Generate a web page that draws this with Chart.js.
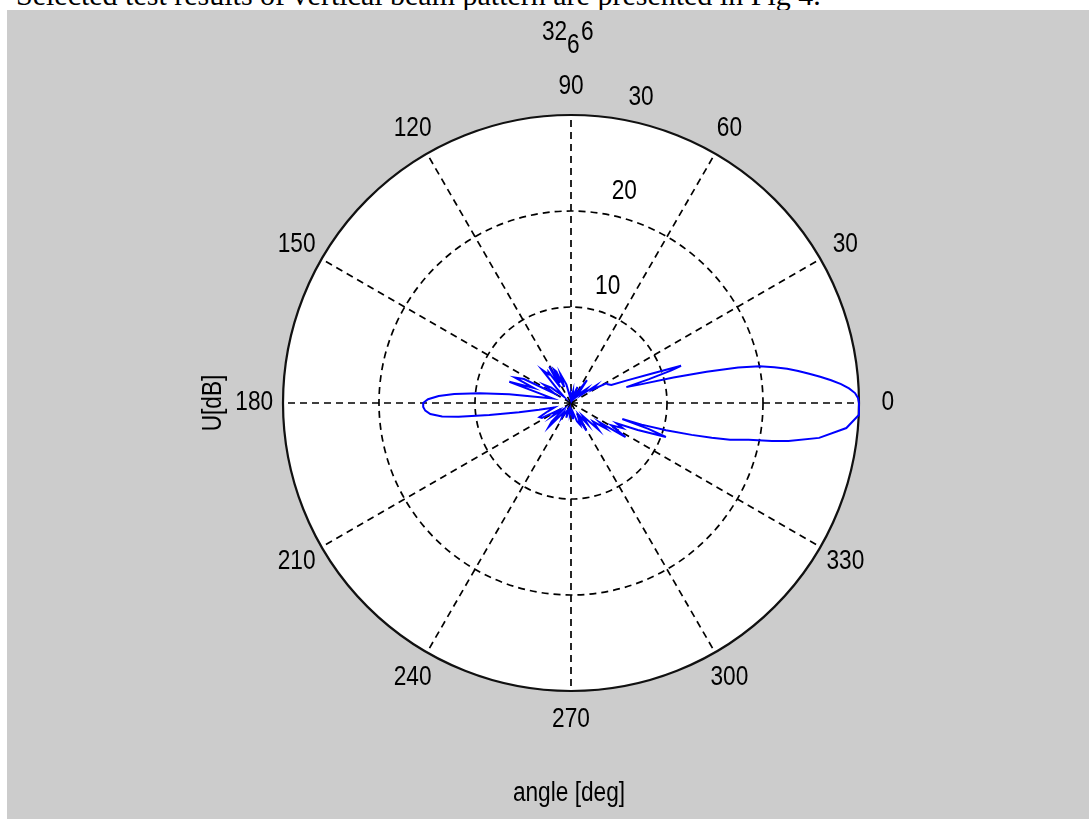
<!DOCTYPE html>
<html>
<head>
<meta charset="utf-8">
<title>Vertical beam pattern</title>
<script src="https://cdn.jsdelivr.net/npm/chart.js@4.4.1/dist/chart.umd.min.js"></script>
<style>
  html, body { margin: 0; padding: 0; background: #fff; width: 1089px; height: 819px; overflow: hidden; }
  #caption {
    position: absolute; left: 16px; top: -20px; line-height: 30px;
    font-family: "Liberation Serif", "Times New Roman", serif; font-size: 30px;
    white-space: nowrap; color: #000;
  }
  #figure { position: absolute; left: 7px; top: 10px; width: 1082px; height: 809px; background: #cccccc; }
</style>
</head>
<body>
<div id="caption">Selected test results of vertical beam pattern are presented in Fig 4.</div>
<div id="figure"><canvas id="polar-canvas"></canvas></div>
<script>
// pattern: angle in degrees, level in dB (0..30 on the radial axis)
const angleDeg = [
  0, 1, 2, 3, 4, 5, 6, 7, 8, 9,
  10, 11, 12, 13, 14, 15, 16, 17, 18, 18.7,
  20, 22, 24, 27, 29, 32, 35, 38, 42, 45,
  50, 55, 58, 62, 68, 74, 80, 86, 92, 98,
  104, 110, 113, 115, 117, 119, 121, 124, 126, 128,
  131, 134, 138, 142, 146, 148, 150, 153, 155.6, 158,
  161, 163, 166, 169, 172, 174, 175.6, 177, 178.5, 180,
  181.5, 183, 184.5, 186, 187, 188.3, 190, 192, 195, 200,
  204, 207, 210, 215, 220, 224, 227, 232, 238, 245,
  252, 258, 264, 270, 276, 282, 288, 293, 296, 299,
  303, 308, 312, 316, 320, 324, 326, 328, 331, 334,
  336, 338, 339.3, 340.3, 341.5, 342.6, 343, 344, 345.2, 346.1,
  347, 348.3, 349.3, 350.1, 352, 354.8, 357.6, 358.8, 360,
];
const gainDb = [
  30, 29.9, 29.6, 29.0, 28.2, 27.2, 26.1, 25.0, 23.9, 22.8,
  21.5, 20.0, 17.8, 14.5, 11.0, 7.5, 6.0, 8.5, 11.0, 12.1,
  9.0, 6.3, 4.6, 4.3, 4.2, 2.6, 3.2, 1.4, 2.2, 1.6,
  0.8, 2.9, 1.5, 0.6, 1.8, 0.7, 1.2, 0.5, 1.0, 0.6,
  2.0, 3.2, 1.8, 3.6, 3.9, 2.4, 4.4, 2.0, 4.0, 3.8,
  4.6, 2.2, 1.0, 2.6, 3.4, 2.5, 2.0, 5.5, 6.4, 4.2,
  6.8, 3.5, 2.0, 3.0, 6.5, 9.6, 12.2, 13.8, 14.9, 15.4,
  15.4, 15.2, 14.7, 13.5, 11.8, 8.6, 5.5, 3.4, 1.8, 2.6,
  3.6, 3.4, 1.5, 2.4, 1.0, 2.8, 3.4, 1.2, 1.8, 0.8,
  1.6, 0.6, 1.2, 0.8, 1.6, 1.0, 2.0, 2.5, 1.8, 3.3,
  1.5, 2.8, 1.8, 4.0, 3.0, 4.5, 3.6, 6.7, 4.8, 6.0,
  5.2, 7.5, 9.0, 10.5, 8.5, 5.6, 7.7, 10.3, 13.0, 15.1,
  17.0, 18.9, 21.3, 23.0, 26.1, 28.8, 30.0, 30.0, 30.0,
];

const ringValues = [10, 20, 30];
const spokeAngles = [0, 30, 60, 90, 120, 150, 180, 210, 240, 270, 300, 330];
const spokeLabels = ["0", "30", "60", "90", "120", "150", "180", "210", "240", "270", "300", "330"];
const titleParts = ["32", "6", "6"]; // "32" + subscript "6" + "6"
const xLabel = "angle [deg]";
const yLabel = "U[dB]";
const rMax = 30;

const LABEL_FONT = '27px "Liberation Sans", Arial, sans-serif';
const SQUEEZE = 0.84;

function toRad(deg) {
  return (deg * Math.PI) / 180;
}

function drawLabel(ctx, text, x, y, align = "center", baseline = "middle", rotation = 0) {
  ctx.save();
  ctx.translate(x, y);
  if (rotation) ctx.rotate(rotation);
  ctx.scale(SQUEEZE, 1);
  ctx.textAlign = align;
  ctx.textBaseline = baseline;
  ctx.fillText(text, 0, 0);
  ctx.restore();
}

const polarGrid = {
  id: "polarGrid",
  beforeDatasetsDraw(chart) {
    const { ctx, scales } = chart;
    const xs = scales.x;
    const ys = scales.y;
    const px = (r, deg) => xs.getPixelForValue(r * Math.cos(toRad(deg)));
    const py = (r, deg) => ys.getPixelForValue(r * Math.sin(toRad(deg)));
    const cx = xs.getPixelForValue(0);
    const cy = ys.getPixelForValue(0);
    const unit = xs.getPixelForValue(1) - cx;

    ctx.save();
    ctx.fillStyle = "#ffffff";
    ctx.beginPath();
    ctx.arc(cx, cy, rMax * unit, 0, Math.PI * 2);
    ctx.fill();

    ctx.strokeStyle = "#000000";
    ctx.lineWidth = 1.7;
    ctx.setLineDash([7, 5]);
    ringValues.filter((v) => v < rMax).forEach((v) => {
      ctx.beginPath();
      ctx.arc(cx, cy, v * unit, 0, Math.PI * 2);
      ctx.stroke();
    });
    spokeAngles.forEach((a) => {
      ctx.beginPath();
      ctx.moveTo(cx, cy);
      ctx.lineTo(px(rMax, a), py(rMax, a));
      ctx.stroke();
    });

    ctx.setLineDash([]);
    ctx.lineWidth = 2.2;
    ctx.strokeStyle = "#111111";
    ctx.beginPath();
    ctx.arc(cx, cy, rMax * unit, 0, Math.PI * 2);
    ctx.stroke();
    ctx.restore();
  },
  afterDraw(chart) {
    const { ctx, scales } = chart;
    const xs = scales.x;
    const ys = scales.y;
    const px = (r, deg) => xs.getPixelForValue(r * Math.cos(toRad(deg)));
    const py = (r, deg) => ys.getPixelForValue(r * Math.sin(toRad(deg)));
    const cx = xs.getPixelForValue(0);
    const cy = ys.getPixelForValue(0);

    ctx.save();
    ctx.fillStyle = "#000000";
    ctx.font = LABEL_FONT;

    spokeAngles.forEach((a, i) => drawLabel(ctx, spokeLabels[i], px(rMax * 1.1, a), py(rMax * 1.1, a)));
    ringValues.forEach((v) => drawLabel(ctx, String(v), px(v, 80) + 20, py(v, 80) - 22));

    // title 32_66
    const top = ys.top;
    drawLabel(ctx, titleParts[0], cx - 29, top - 75, "left", "alphabetic");
    drawLabel(ctx, titleParts[1], cx - 4, top - 62, "left", "alphabetic");
    drawLabel(ctx, titleParts[2], cx + 10, top - 75, "left", "alphabetic");

    drawLabel(ctx, xLabel, cx - 2, ys.bottom + 110, "center", "alphabetic");
    drawLabel(ctx, yLabel, xs.left - 69, cy, "center", "middle", -Math.PI / 2);
    ctx.restore();
  },
};

const patternPoints = angleDeg.map((a, i) => ({
  x: gainDb[i] * Math.cos(toRad(a)),
  y: gainDb[i] * Math.sin(toRad(a)),
}));

new Chart(document.querySelector("#polar-canvas"), {
  type: "scatter",
  data: {
    datasets: [
      {
        label: "U",
        data: patternPoints,
        showLine: true,
        borderColor: "#0000ff",
        borderWidth: 2,
        pointRadius: 0,
        tension: 0,
        clip: false,
      },
    ],
  },
  options: {
    responsive: true,
    maintainAspectRatio: false,
    animation: false,
    layout: { padding: { left: 276, top: 105, right: 230, bottom: 128 } },
    plugins: { legend: { display: false }, tooltip: { enabled: false }, title: { display: false } },
    scales: {
      x: { type: "linear", min: -rMax, max: rMax, display: false },
      y: { type: "linear", min: -rMax, max: rMax, display: false },
    },
  },
  plugins: [polarGrid],
});
</script>
</body>
</html>
